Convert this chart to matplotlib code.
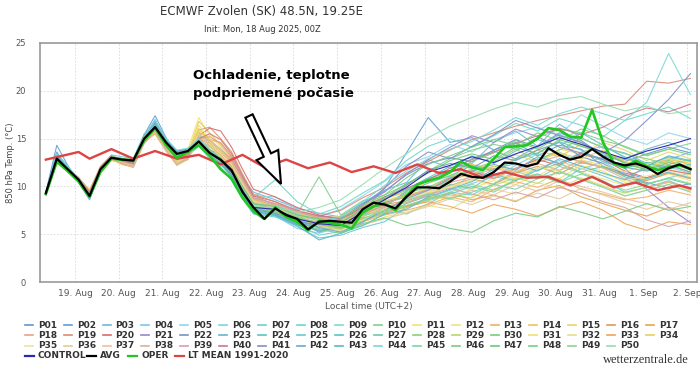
import datetime as dt
import numpy as np
import matplotlib
matplotlib.use("Agg")
import matplotlib.pyplot as plt
import matplotlib.dates as mdates
from matplotlib.lines import Line2D
from matplotlib.patches import Polygon
from matplotlib.ticker import FuncFormatter

# ECMWF ensemble, 850 hPa temperature, Zvolen, init 18 Aug 2025 00Z
init_local = dt.datetime(2025, 8, 18, 2, 0)  # 00Z in local time (UTC+2)

main_hours = list(range(6, 361, 6))
mem_hours = list(range(6, 121, 6)) + list(range(132, 361, 12))
lt_hours = [6, 24] + list(range(30, 355, 12)) + [360]

oper = [9.2, 12.6, 11.6, 10.5, 8.9, 11.5, 12.9, 12.8, 12.7, 14.8,
        16.1, 14.3, 13.0, 13.6, 14.3, 13.2, 11.8, 10.8, 8.8, 7.4,
        6.6, 7.8, 6.8, 6.3, 5.4, 6.4, 6.2, 6.0, 5.6, 7.3,
        7.9, 8.2, 7.5, 9.0, 10.2, 10.6, 10.9, 11.5, 12.6, 12.0,
        11.7, 12.9, 14.1, 14.2, 14.3, 15.0, 16.1, 15.9, 15.2, 15.1,
        18.0, 14.6, 12.4, 12.0, 12.7, 12.1, 11.7, 12.0, 12.2, 11.8]

avg = [9.3, 12.9, 11.8, 10.7, 9.0, 11.8, 13.0, 12.8, 12.7, 15.0,
       16.2, 14.6, 13.4, 13.7, 14.7, 13.5, 12.8, 11.7, 9.4, 7.8,
       6.6, 7.7, 7.0, 6.6, 5.5, 6.3, 6.4, 6.3, 6.2, 7.6,
       8.3, 8.1, 7.7, 8.9, 9.9, 9.9, 9.8, 10.5, 11.3, 11.0,
       10.9, 11.5, 12.5, 12.4, 12.1, 12.4, 14.0, 13.3, 12.8, 13.1,
       13.9, 13.1, 12.5, 12.2, 12.4, 12.0, 11.3, 11.9, 12.3, 11.8]

lt_mean = [12.8, 13.6, 12.9, 13.9, 12.9, 13.7, 12.9, 13.3, 12.3, 13.3,
           12.0, 12.8, 11.9, 12.5, 11.5, 12.1, 11.4, 12.3, 11.4, 11.8,
           10.9, 11.5, 10.9, 11.0, 10.1, 11.0, 9.9, 10.4, 9.6, 10.1, 9.8]

control = [9.3, 13.0, 11.8, 10.7, 9.0, 11.8, 13.0, 12.8, 12.7, 15.0, 16.3, 14.6, 13.4, 13.7, 14.7, 13.5, 12.7, 11.5, 9.6, 7.8,
           7.6, 6.6, 6.1, 5.9, 7.3, 8.6, 9.9, 11.5, 12.2, 13.1, 12.5, 13.4, 14.2, 15.1, 14.4, 13.6, 12.9, 13.7, 14.3, 15.0]

members = [
    [9.2, 13.6, 11.9, 10.5, 8.8, 11.6, 12.9, 12.6, 12.8, 15.3, 16.8, 14.9, 13.7, 13.9, 15.1, 13.8, 12.5, 11.0, 9.0, 7.2,
     7.0, 6.1, 5.8, 6.9, 8.2, 9.5, 11.2, 12.4, 13.0, 12.6, 13.8, 14.9, 14.1, 15.6, 14.8, 13.2, 12.6, 13.4, 14.1, 13.5],
    [9.4, 14.3, 12.2, 10.4, 8.6, 11.7, 13.1, 12.9, 12.6, 15.4, 17.4, 15.1, 13.2, 13.5, 14.8, 14.2, 13.6, 12.4, 10.5, 8.6,
     7.9, 6.6, 5.2, 5.9, 7.4, 9.8, 13.5, 17.2, 14.6, 15.1, 13.8, 14.6, 13.2, 14.3, 13.9, 12.1, 11.4, 10.8, 11.5, 10.9],
    [9.1, 13.1, 11.5, 10.9, 9.2, 12.0, 13.2, 12.7, 12.9, 15.2, 17.0, 14.7, 13.3, 13.8, 15.4, 14.6, 13.9, 12.8, 10.9, 9.4,
     8.6, 7.7, 7.2, 6.8, 8.3, 9.6, 10.4, 12.8, 11.9, 12.4, 14.6, 15.8, 14.2, 16.5, 15.1, 14.0, 13.5, 12.4, 12.8, 13.6],
    [9.3, 12.7, 11.6, 10.6, 8.7, 11.9, 13.1, 12.8, 12.6, 14.8, 16.1, 14.4, 13.1, 13.4, 14.9, 13.9, 12.9, 11.3, 9.2, 7.6,
     6.9, 5.6, 5.1, 5.8, 6.4, 7.2, 7.9, 8.8, 9.6, 10.3, 11.0, 10.6, 11.9, 12.7, 11.8, 12.6, 11.3, 10.2, 10.9, 11.4],
    [9.5, 12.4, 11.9, 10.8, 9.1, 11.5, 12.8, 12.9, 12.8, 15.1, 16.4, 14.5, 13.6, 13.6, 14.3, 13.1, 12.2, 11.4, 9.6, 7.9,
     7.4, 6.4, 6.9, 7.6, 9.0, 10.5, 12.3, 13.1, 14.4, 13.6, 14.9, 15.6, 16.2, 15.4, 17.5, 16.3, 15.1, 14.4, 15.6, 15.0],
    [9.2, 13.0, 11.7, 10.5, 8.9, 11.8, 13.0, 12.6, 12.4, 14.9, 16.3, 14.8, 13.4, 13.9, 15.0, 13.6, 13.3, 12.6, 10.8, 9.0,
     8.9, 7.6, 6.1, 6.5, 7.8, 7.4, 8.6, 9.3, 10.7, 11.8, 10.9, 12.2, 13.4, 12.3, 13.6, 14.2, 13.1, 12.4, 13.0, 12.2],
    [9.4, 12.8, 11.9, 10.9, 9.3, 12.1, 13.3, 13.1, 12.9, 15.5, 16.6, 14.2, 12.9, 13.2, 14.2, 12.9, 12.0, 10.6, 8.7, 7.1,
     6.8, 6.0, 4.9, 5.3, 6.2, 7.9, 7.1, 8.2, 9.4, 9.1, 10.3, 11.6, 10.8, 12.1, 11.4, 10.6, 9.4, 9.9, 10.6, 9.7],
    [9.3, 13.3, 12.0, 10.7, 9.0, 11.8, 12.9, 12.8, 12.5, 14.9, 16.2, 14.6, 13.5, 13.9, 14.6, 13.3, 12.9, 12.2, 10.6, 8.8,
     10.7, 8.4, 7.1, 7.9, 9.3, 10.6, 12.7, 14.2, 15.0, 14.1, 15.3, 16.6, 15.8, 17.1, 16.4, 15.2, 16.9, 17.6, 18.3, 17.1],
    [9.2, 12.9, 11.8, 10.6, 8.9, 11.7, 12.9, 12.7, 12.6, 15.0, 16.0, 14.3, 13.3, 13.6, 14.5, 13.4, 12.6, 11.5, 9.7, 8.1,
     7.5, 6.2, 6.3, 5.9, 7.1, 8.4, 9.2, 10.1, 9.7, 11.2, 12.1, 11.8, 12.9, 13.6, 12.4, 13.0, 11.9, 12.5, 12.0, 11.4],
    [9.3, 12.6, 11.8, 10.7, 9.1, 11.9, 13.0, 12.8, 12.8, 15.1, 16.1, 14.6, 13.5, 13.8, 14.7, 13.7, 12.7, 11.9, 10.1, 8.3,
     7.8, 7.1, 11.0, 7.0, 8.5, 9.1, 10.2, 11.6, 12.9, 13.8, 14.4, 13.9, 15.1, 16.0, 15.6, 14.8, 14.2, 13.3, 13.9, 14.5],
    [9.4, 12.5, 11.6, 10.9, 9.6, 12.0, 12.8, 12.3, 12.1, 14.6, 15.6, 13.8, 12.6, 13.9, 17.2, 15.3, 14.1, 12.9, 10.7, 8.6,
     7.9, 6.8, 6.2, 6.1, 7.3, 7.7, 8.3, 9.0, 8.6, 9.8, 10.6, 10.2, 11.3, 10.8, 12.2, 11.6, 10.4, 10.9, 11.8, 11.2],
    [9.3, 12.8, 11.7, 10.8, 9.3, 11.9, 13.0, 12.6, 12.2, 14.8, 15.9, 14.1, 12.3, 13.1, 16.1, 14.8, 13.6, 12.4, 10.2, 8.4,
     7.6, 6.9, 6.4, 5.7, 6.6, 7.4, 8.8, 9.5, 10.3, 9.6, 10.9, 11.8, 11.1, 12.3, 11.5, 10.8, 10.1, 10.7, 11.3, 10.6],
    [9.2, 12.6, 11.9, 10.9, 9.5, 11.8, 12.9, 12.4, 12.0, 14.7, 15.7, 13.9, 12.4, 12.8, 15.2, 14.5, 13.2, 12.0, 9.9, 8.2,
     7.3, 6.6, 6.0, 5.6, 6.3, 7.0, 7.5, 8.1, 8.9, 8.4, 9.7, 10.5, 9.9, 10.8, 9.7, 9.2, 8.6, 8.9, 9.6, 9.1],
    [9.3, 12.7, 11.8, 10.7, 9.4, 11.6, 12.7, 12.5, 12.3, 14.9, 16.0, 14.2, 12.7, 13.4, 16.8, 15.6, 14.3, 13.0, 10.9, 8.9,
     8.1, 7.2, 6.8, 6.4, 7.9, 8.7, 9.4, 10.8, 11.5, 12.3, 11.8, 12.9, 13.8, 13.1, 14.4, 13.5, 12.9, 12.1, 12.8, 12.4],
    [9.4, 12.9, 11.7, 10.6, 9.2, 11.7, 12.9, 12.7, 12.5, 15.0, 16.2, 14.4, 13.0, 13.5, 15.5, 14.2, 13.5, 12.3, 10.3, 8.5,
     7.7, 7.0, 6.5, 6.9, 8.0, 8.9, 9.8, 10.3, 11.2, 11.7, 12.5, 13.3, 12.6, 13.9, 13.4, 14.6, 13.8, 12.7, 13.6, 12.9],
    [9.1, 12.5, 11.9, 10.8, 9.4, 11.9, 13.1, 12.6, 12.2, 14.6, 15.8, 14.0, 12.5, 13.0, 15.9, 16.2, 15.0, 13.6, 11.3, 9.2,
     8.4, 7.3, 6.7, 6.2, 7.0, 8.1, 8.5, 9.2, 10.1, 10.8, 10.2, 11.4, 12.1, 11.3, 12.5, 12.0, 11.2, 10.6, 11.4, 10.8],
    [9.3, 12.4, 11.8, 10.9, 9.6, 12.1, 13.0, 12.4, 12.1, 14.7, 15.5, 13.7, 12.2, 13.1, 15.7, 14.9, 14.6, 13.2, 10.8, 8.7,
     7.9, 7.1, 6.3, 6.0, 7.1, 7.5, 8.0, 8.7, 9.3, 8.6, 9.1, 8.4, 9.6, 10.1, 8.9, 8.2, 7.5, 6.9, 7.8, 7.2],
    [9.2, 12.7, 11.7, 10.6, 9.3, 11.8, 13.2, 12.7, 12.4, 14.8, 16.3, 14.5, 13.0, 13.3, 15.0, 14.6, 13.8, 12.9, 11.0, 9.1,
     8.0, 7.1, 6.6, 6.1, 6.9, 8.2, 9.1, 9.6, 10.4, 11.0, 11.9, 11.4, 12.5, 13.2, 12.6, 12.0, 11.1, 11.8, 12.3, 11.5],
    [9.3, 12.8, 11.8, 10.7, 9.2, 11.7, 12.9, 12.8, 12.6, 15.1, 16.4, 14.7, 13.4, 13.6, 14.9, 13.8, 13.4, 12.7, 10.9, 8.8,
     8.2, 7.4, 6.9, 7.5, 8.8, 9.9, 11.4, 12.6, 13.8, 14.9, 15.6, 16.3, 16.9, 17.4, 17.9, 18.4, 18.6, 21.0, 20.8, 21.3],
    [9.2, 12.6, 11.9, 10.8, 9.4, 12.0, 13.1, 12.6, 12.3, 14.7, 16.0, 14.3, 12.9, 13.2, 15.3, 16.1, 15.8, 14.1, 11.8, 9.7,
     8.9, 7.8, 7.0, 6.6, 7.6, 8.3, 8.9, 9.7, 10.9, 11.6, 10.8, 11.9, 12.8, 12.2, 13.4, 12.8, 11.6, 10.9, 11.7, 11.3],
    [9.3, 13.0, 11.8, 10.6, 9.0, 11.9, 13.1, 12.9, 12.7, 15.2, 16.5, 14.7, 13.6, 13.7, 14.6, 13.2, 12.4, 11.2, 9.3, 7.6,
     7.4, 6.5, 6.9, 6.6, 8.1, 9.4, 11.3, 12.8, 14.1, 15.3, 14.6, 16.0, 15.2, 14.1, 13.5, 12.8, 11.9, 9.7, 7.8, 6.2],
    [9.4, 13.2, 11.9, 10.7, 8.9, 11.6, 12.9, 12.8, 12.8, 15.3, 16.6, 14.8, 13.5, 13.8, 14.8, 13.6, 12.7, 11.4, 9.4, 7.7,
     7.1, 6.0, 5.4, 5.8, 7.2, 8.6, 10.1, 11.7, 12.4, 11.9, 13.2, 12.7, 13.8, 14.6, 13.1, 12.4, 11.2, 10.4, 9.8, 10.3],
    [9.2, 13.4, 12.1, 10.8, 8.9, 11.7, 12.9, 12.7, 12.6, 15.0, 16.9, 14.9, 13.6, 13.9, 14.9, 13.5, 12.6, 11.5, 9.5, 7.7,
     7.4, 6.3, 5.9, 5.5, 6.9, 7.8, 9.5, 10.8, 11.6, 12.9, 13.7, 12.9, 14.2, 15.4, 14.6, 13.3, 12.8, 13.9, 14.6, 13.8],
    [9.3, 13.1, 11.9, 10.6, 8.8, 11.8, 13.0, 12.8, 12.7, 15.1, 16.3, 14.6, 13.3, 13.7, 14.6, 13.4, 12.9, 11.8, 9.9, 8.2,
     7.6, 6.7, 5.6, 6.2, 7.7, 8.1, 9.1, 10.4, 11.1, 12.2, 11.6, 12.8, 13.5, 14.7, 13.8, 12.6, 11.9, 12.5, 11.8, 12.3],
    [9.4, 13.5, 12.0, 10.7, 9.0, 11.9, 13.1, 12.9, 12.5, 15.2, 16.8, 14.9, 13.6, 13.8, 14.8, 13.7, 12.6, 11.3, 9.1, 7.4,
     6.9, 5.8, 4.6, 4.9, 5.7, 6.3, 7.8, 8.6, 9.2, 10.0, 9.4, 10.7, 11.3, 10.4, 11.9, 11.1, 10.2, 10.8, 11.5, 10.9],
    [9.2, 13.0, 11.7, 10.5, 8.8, 11.7, 12.9, 12.6, 12.5, 14.9, 16.5, 14.7, 13.4, 13.9, 14.7, 13.3, 12.3, 11.0, 9.2, 7.5,
     7.1, 6.1, 5.3, 5.9, 7.0, 8.9, 9.7, 10.9, 12.1, 13.2, 12.4, 13.7, 14.9, 14.2, 15.6, 14.3, 13.0, 12.2, 13.1, 12.6],
    [9.3, 12.9, 11.8, 10.7, 9.1, 11.8, 13.0, 12.8, 12.7, 15.0, 16.2, 14.5, 13.4, 13.7, 14.8, 13.6, 12.8, 11.6, 9.7, 7.9,
     7.5, 6.8, 6.1, 5.7, 6.6, 7.1, 8.2, 9.0, 10.2, 9.8, 11.3, 10.6, 11.7, 12.4, 11.5, 12.1, 11.0, 10.3, 10.8, 10.2],
    [9.4, 12.7, 11.7, 10.8, 9.2, 11.9, 13.1, 12.8, 12.6, 15.1, 16.1, 14.4, 13.2, 13.6, 14.9, 13.8, 13.0, 11.9, 10.0, 8.2,
     7.8, 6.9, 6.0, 5.6, 6.8, 8.0, 9.3, 9.9, 11.0, 11.8, 12.6, 13.9, 12.7, 13.8, 15.0, 14.1, 13.4, 12.9, 12.3, 12.8],
    [9.3, 12.8, 11.8, 10.6, 9.2, 11.8, 12.9, 12.6, 12.4, 14.9, 15.9, 14.2, 12.8, 13.4, 15.6, 14.3, 13.1, 11.9, 9.8, 8.0,
     7.5, 6.7, 6.0, 5.5, 6.4, 7.2, 7.8, 8.5, 9.1, 8.8, 10.1, 10.9, 10.3, 11.6, 10.8, 10.0, 9.3, 9.9, 10.4, 9.8],
    [9.2, 12.9, 11.9, 10.7, 9.1, 11.7, 13.0, 12.7, 12.6, 15.0, 16.3, 14.6, 13.3, 13.8, 14.6, 13.5, 12.7, 11.6, 9.6, 7.8,
     7.2, 6.4, 5.8, 6.3, 7.4, 8.7, 9.6, 10.6, 11.4, 12.6, 13.5, 14.8, 13.9, 15.2, 14.2, 13.6, 12.5, 11.8, 12.7, 12.0],
    [9.4, 12.6, 11.7, 10.9, 9.5, 11.9, 12.8, 12.4, 12.1, 14.6, 15.7, 13.9, 12.5, 13.3, 16.4, 15.0, 13.8, 12.6, 10.4, 8.5,
     7.8, 7.0, 6.5, 6.1, 6.9, 7.9, 8.4, 9.3, 9.9, 10.6, 11.4, 10.8, 12.0, 11.6, 12.8, 12.2, 11.5, 12.3, 12.9, 12.5],
    [9.3, 12.7, 11.8, 10.8, 9.4, 12.0, 13.0, 12.5, 12.2, 14.8, 15.8, 14.0, 12.6, 13.0, 15.8, 14.7, 13.5, 12.2, 10.0, 8.2,
     7.4, 6.5, 5.9, 5.4, 5.9, 6.8, 7.3, 8.0, 7.6, 8.9, 9.7, 9.2, 10.4, 9.8, 10.9, 10.1, 9.0, 9.6, 10.2, 9.5],
    [9.2, 12.5, 11.9, 10.9, 9.5, 11.8, 12.9, 12.3, 12.0, 14.5, 15.6, 13.8, 12.3, 12.9, 15.0, 14.4, 13.3, 12.1, 10.1, 8.3,
     7.6, 6.8, 6.2, 5.8, 6.7, 7.3, 7.9, 8.4, 7.9, 7.2, 8.1, 7.6, 6.9, 7.8, 8.4, 7.5, 6.1, 5.4, 6.3, 6.0],
    [9.3, 12.8, 11.7, 10.7, 9.3, 11.7, 12.9, 12.6, 12.3, 14.8, 15.9, 14.1, 12.7, 13.5, 16.0, 14.9, 13.7, 12.5, 10.5, 8.6,
     7.9, 7.2, 6.7, 6.4, 7.6, 8.5, 9.0, 9.8, 10.7, 11.3, 12.1, 11.5, 12.7, 13.5, 12.9, 13.8, 12.6, 12.0, 12.6, 12.1],
    [9.4, 12.6, 11.8, 10.8, 9.4, 11.9, 13.0, 12.5, 12.2, 14.7, 15.7, 13.9, 12.4, 13.2, 15.4, 14.4, 13.4, 12.3, 10.2, 8.4,
     7.7, 6.9, 6.3, 5.9, 6.5, 7.6, 8.6, 9.4, 10.0, 10.7, 10.1, 11.2, 11.9, 12.6, 11.9, 11.3, 10.6, 11.1, 11.6, 11.0],
    [9.2, 12.7, 11.9, 10.9, 9.5, 12.0, 13.1, 12.4, 12.0, 14.6, 15.6, 13.8, 12.2, 12.8, 14.9, 14.1, 13.2, 11.8, 9.7, 8.0,
     7.3, 6.4, 5.8, 5.3, 6.0, 6.6, 7.2, 7.9, 8.7, 8.1, 9.0, 8.5, 9.3, 8.7, 9.8, 9.1, 8.3, 7.6, 8.4, 7.9],
    [9.3, 12.5, 11.8, 10.8, 9.4, 11.8, 12.9, 12.5, 12.2, 14.7, 15.8, 14.0, 12.5, 13.0, 15.1, 14.5, 13.6, 12.4, 10.4, 8.5,
     7.8, 7.0, 6.4, 6.0, 6.9, 7.7, 8.5, 9.3, 8.8, 9.6, 9.1, 10.2, 9.5, 10.6, 10.0, 9.4, 8.7, 8.2, 7.6, 8.3],
    [9.2, 12.6, 11.7, 10.9, 9.5, 11.9, 13.0, 12.4, 12.1, 14.6, 15.7, 13.9, 12.3, 12.9, 15.3, 14.8, 13.9, 12.6, 10.6, 8.7,
     8.0, 7.3, 6.8, 6.5, 7.5, 8.2, 8.9, 9.7, 10.6, 11.4, 10.8, 11.9, 12.4, 11.7, 12.7, 11.9, 10.8, 9.9, 10.5, 9.6],
    [9.3, 12.7, 11.8, 10.7, 9.3, 11.8, 13.1, 12.6, 12.3, 14.8, 16.0, 14.3, 12.8, 13.1, 15.0, 15.2, 14.5, 13.1, 10.8, 8.8,
     8.2, 7.4, 6.7, 6.3, 7.3, 7.9, 8.3, 9.1, 9.8, 9.2, 8.6, 9.4, 8.8, 9.9, 9.3, 8.4, 7.8, 6.5, 5.8, 6.4],
    [9.2, 12.8, 11.9, 10.8, 9.4, 12.0, 13.2, 12.7, 12.4, 14.9, 16.2, 14.5, 13.0, 13.3, 15.0, 15.5, 14.9, 13.4, 11.1, 9.0,
     8.4, 7.5, 6.9, 6.7, 7.8, 8.9, 9.8, 10.7, 11.9, 12.8, 13.6, 14.5, 15.3, 16.1, 15.4, 16.2, 17.4, 18.2, 17.8, 18.6],
    [9.3, 13.1, 11.8, 10.6, 8.9, 11.7, 13.0, 12.8, 12.7, 15.1, 16.5, 14.7, 13.6, 13.8, 14.7, 13.4, 12.5, 11.2, 9.3, 7.6,
     7.2, 6.3, 6.0, 6.6, 8.0, 9.8, 12.1, 13.6, 12.9, 14.2, 15.4, 16.9, 16.1, 15.3, 14.6, 13.5, 14.8, 16.9, 19.1, 21.8],
    [9.4, 13.3, 12.0, 10.7, 8.9, 11.8, 13.0, 12.8, 12.6, 15.2, 16.7, 14.8, 13.6, 13.9, 14.8, 13.6, 12.7, 11.4, 9.4, 7.6,
     7.3, 6.5, 5.7, 5.2, 6.3, 7.5, 8.7, 9.6, 10.8, 11.6, 12.3, 11.7, 13.1, 12.4, 13.5, 12.9, 12.0, 11.6, 12.2, 11.5],
    [9.3, 13.2, 11.9, 10.6, 8.8, 11.7, 12.9, 12.7, 12.6, 15.0, 16.6, 14.7, 13.5, 13.8, 14.7, 13.3, 12.5, 11.1, 9.2, 7.4,
     7.0, 5.9, 4.4, 5.1, 5.9, 7.1, 7.6, 8.9, 9.7, 10.5, 11.8, 12.4, 11.6, 12.9, 12.1, 11.4, 10.7, 12.1, 13.2, 12.7],
    [9.2, 13.4, 12.1, 10.8, 9.0, 11.9, 13.1, 12.9, 12.7, 15.2, 16.9, 15.0, 13.8, 14.0, 15.0, 13.7, 12.8, 11.7, 9.8, 8.1,
     8.0, 7.1, 6.4, 6.8, 8.4, 10.1, 11.6, 12.9, 13.9, 14.7, 15.9, 17.2, 16.4, 17.6, 18.3, 17.6, 16.9, 18.8, 23.9, 19.6],
    [9.3, 12.9, 11.8, 10.7, 9.1, 11.8, 13.0, 12.8, 12.7, 15.0, 16.2, 14.6, 13.4, 13.7, 14.8, 13.6, 12.8, 11.6, 9.6, 7.8,
     7.5, 6.6, 6.2, 5.9, 7.0, 7.3, 8.5, 9.2, 8.7, 9.4, 10.2, 9.7, 10.8, 11.5, 10.7, 9.9, 9.0, 9.6, 10.2, 9.4],
    [9.4, 12.8, 11.7, 10.6, 9.0, 11.7, 12.9, 12.7, 12.6, 15.1, 16.3, 14.6, 13.3, 13.6, 14.6, 13.4, 12.6, 11.4, 9.5, 7.7,
     7.3, 6.2, 5.5, 5.1, 6.1, 6.7, 5.9, 6.3, 5.6, 5.2, 6.4, 7.2, 6.8, 7.9, 7.3, 6.6, 7.4, 8.2, 7.5, 7.9],
    [9.3, 12.9, 11.9, 10.8, 9.1, 11.9, 13.1, 12.9, 12.8, 15.2, 16.4, 14.7, 13.5, 13.8, 14.7, 13.6, 12.9, 11.8, 10.0, 8.2,
     7.9, 7.0, 6.6, 6.2, 7.6, 8.8, 10.3, 11.4, 12.7, 13.4, 12.8, 14.1, 13.4, 14.9, 14.2, 13.5, 12.4, 11.7, 12.5, 11.9],
    [9.2, 12.8, 11.8, 10.7, 9.0, 11.8, 13.0, 12.7, 12.6, 14.9, 16.2, 14.5, 13.4, 13.6, 14.8, 13.5, 12.7, 11.6, 9.6, 7.8,
     7.6, 6.7, 6.2, 6.6, 8.0, 9.1, 10.9, 12.3, 13.2, 14.1, 14.9, 14.3, 15.6, 14.8, 16.0, 15.3, 14.1, 13.2, 13.9, 13.3],
    [9.3, 12.9, 11.7, 10.6, 9.0, 11.7, 12.9, 12.8, 12.7, 15.1, 16.3, 14.6, 13.3, 13.7, 14.6, 13.4, 12.6, 11.5, 9.7, 7.9,
     7.6, 6.9, 6.1, 5.8, 6.6, 7.5, 8.0, 8.7, 9.4, 10.2, 9.6, 10.7, 11.2, 10.4, 11.3, 10.5, 9.6, 10.2, 10.9, 10.3],
    [9.4, 13.0, 11.8, 10.7, 9.0, 11.8, 13.0, 12.8, 12.7, 15.1, 16.4, 14.6, 13.4, 13.8, 14.7, 13.5, 12.8, 11.6, 9.7, 7.9,
     7.8, 7.3, 7.8, 8.6, 10.2, 11.9, 13.4, 15.1, 16.3, 17.2, 18.1, 18.8, 18.3, 19.1, 19.4, 18.6, 17.9, 18.4, 17.6, 17.9],
]

member_colors = ['#6f8fc9', '#5fa0d8', '#6fb6e0', '#7cc6ea', '#8fd6ec', '#7dd3e0', '#6fcfd0', '#6ed8c8', '#80dcc0', '#7fd08c',
                 '#f3e36b', '#f1e27f', '#f0b060', '#eac35a', '#ecd36c', '#d99a60', '#e8a448', '#ec9f8c', '#d88a78', '#d86a6a',
                 '#9a86c6', '#7895b8', '#66b4c8', '#5cc4bc', '#6ac8d4', '#5dc0c8', '#6cc8a8', '#8ad07a', '#b8d86a', '#7cc87c',
                 '#f0e070', '#eadc88', '#eda35c', '#e8cf60', '#efe2a2', '#e2cc98', '#ecc0a0', '#d8b498', '#d8a0a8', '#c87a84',
                 '#8090c4', '#6aa8c8', '#5cb8c4', '#7ad8d8', '#7ed4a4', '#78cc88', '#6cc878', '#74d080', '#88d890', '#96dcb0']

W, H = 700, 373
NARROW = ['Liberation Sans Narrow', 'DejaVu Sans']


def to_time(hours):
    return [init_local + dt.timedelta(hours=h) for h in hours]


def fx(px):
    return px / W


def fy(py):
    return 1 - py / H


fig = plt.figure(figsize=(7, 3.73), dpi=100)
ax = fig.add_axes([fx(40), fy(282), fx(697) - fx(40), fy(43) - fy(282)])

mem_t = to_time(mem_hours)
for vals, c in zip(members, member_colors):
    ax.plot(mem_t, vals, color=c, lw=0.8, alpha=0.9)
ax.plot(mem_t, control, color='#2b2bb0', lw=0.8)
ax.plot(to_time(lt_hours), lt_mean, color='#dd4444', lw=1.7)
ax.plot(to_time(main_hours), oper, color='#22c822', lw=1.9)
ax.plot(to_time(main_hours), avg, color='black', lw=1.6)

ax.set_ylim(0, 25)
ax.set_yticks([0, 5, 10, 15, 20, 25])
ax.set_xlim(dt.datetime(2025, 8, 18, 4, 47), dt.datetime(2025, 9, 2, 5, 36))
ax.xaxis.set_major_locator(mdates.DayLocator())
ax.xaxis.set_major_formatter(FuncFormatter(
    lambda v, p: f"{mdates.num2date(v).day}. {mdates.num2date(v).strftime('%b')}"))
ax.grid(True, color='#d8d8d8', ls=(0, (2, 2)), lw=0.6)
ax.tick_params(axis='both', length=0, colors='#555555', labelsize=6.5)
ax.tick_params(axis='y', pad=10, labelsize=6)
ax.tick_params(axis='x', pad=5)
for lab in ax.get_xticklabels() + ax.get_yticklabels():
    lab.set_family(NARROW)
for s in ax.spines.values():
    s.set_color('#999999')
    s.set_linewidth(1.2)
ax.set_xlabel('Local time (UTC+2)', fontsize=6.5, color='#555555', family=NARROW, labelpad=3)
fig.text(fx(10.5), fy(163), '850 hPa Temp. (°C)', rotation=90, ha='center', va='center',
         fontsize=6, color='#444444', family=NARROW)

fig.text(fx(262), fy(12), 'ECMWF Zvolen (SK) 48.5N, 19.25E', ha='center', va='center',
         fontsize=8.5, color='#333333', family=NARROW)
fig.text(fx(262), fy(29), 'Init: Mon, 18 Aug 2025, 00Z', ha='center', va='center',
         fontsize=6, color='#333333', family=NARROW)

# annotation text and hollow arrow (arrow built in pixel space)
fig.text(fx(193), fy(75), 'Ochladenie, teplotne', ha='left', va='center',
         fontsize=9.5, fontweight='bold', family=NARROW)
fig.text(fx(193), fy(93), 'podpriemené počasie', ha='left', va='center',
         fontsize=9.5, fontweight='bold', family=NARROW)
tail = np.array([249.0, 116.0])
tip = np.array([281.0, 184.0])
d = (tip - tail) / np.hypot(*(tip - tail))
n = np.array([-d[1], d[0]])
base = tip - d * 32
pts = [tail + n * 4, base + n * 4, base + n * 12, tip, base - n * 12, base - n * 4, tail - n * 4]
fig.patches.append(Polygon([(fx(p[0]), fy(p[1])) for p in pts], closed=True,
                           transform=fig.transFigure, fc='white', ec='black', lw=1.5,
                           joinstyle='miter'))

# legend
names = [f'P{i:02d}' for i in range(1, 51)]
for i, (name, c) in enumerate(zip(names, member_colors)):
    row, col = divmod(i, 17)
    x0 = 25 + col * 38.8
    y0 = 325 + row * 10.3
    fig.add_artist(Line2D([fx(x0), fx(x0 + 8)], [fy(y0), fy(y0)], color=c, lw=1.2,
                          transform=fig.transFigure))
    fig.text(fx(x0 + 13), fy(y0), name, ha='left', va='center', fontsize=6.5,
             fontweight='bold', color='#333333', family=NARROW)

specials = [('CONTROL', '#2b2bb0', 25), ('AVG', 'black', 87), ('OPER', '#22c822', 128),
            ('LT MEAN 1991-2020', '#dd4444', 175)]
for name, c, x0 in specials:
    y0 = 356
    fig.add_artist(Line2D([fx(x0), fx(x0 + 9)], [fy(y0), fy(y0)], color=c, lw=1.6,
                          transform=fig.transFigure))
    fig.text(fx(x0 + 13), fy(y0), name, ha='left', va='center', fontsize=6.5,
             fontweight='bold', color='#333333', family=NARROW)

fig.text(fx(689), fy(360), 'wetterzentrale.de', ha='right', va='center', fontsize=9,
         color='#333333', family=['Liberation Serif', 'DejaVu Serif'])

fig.savefig('out.png', dpi=100)
